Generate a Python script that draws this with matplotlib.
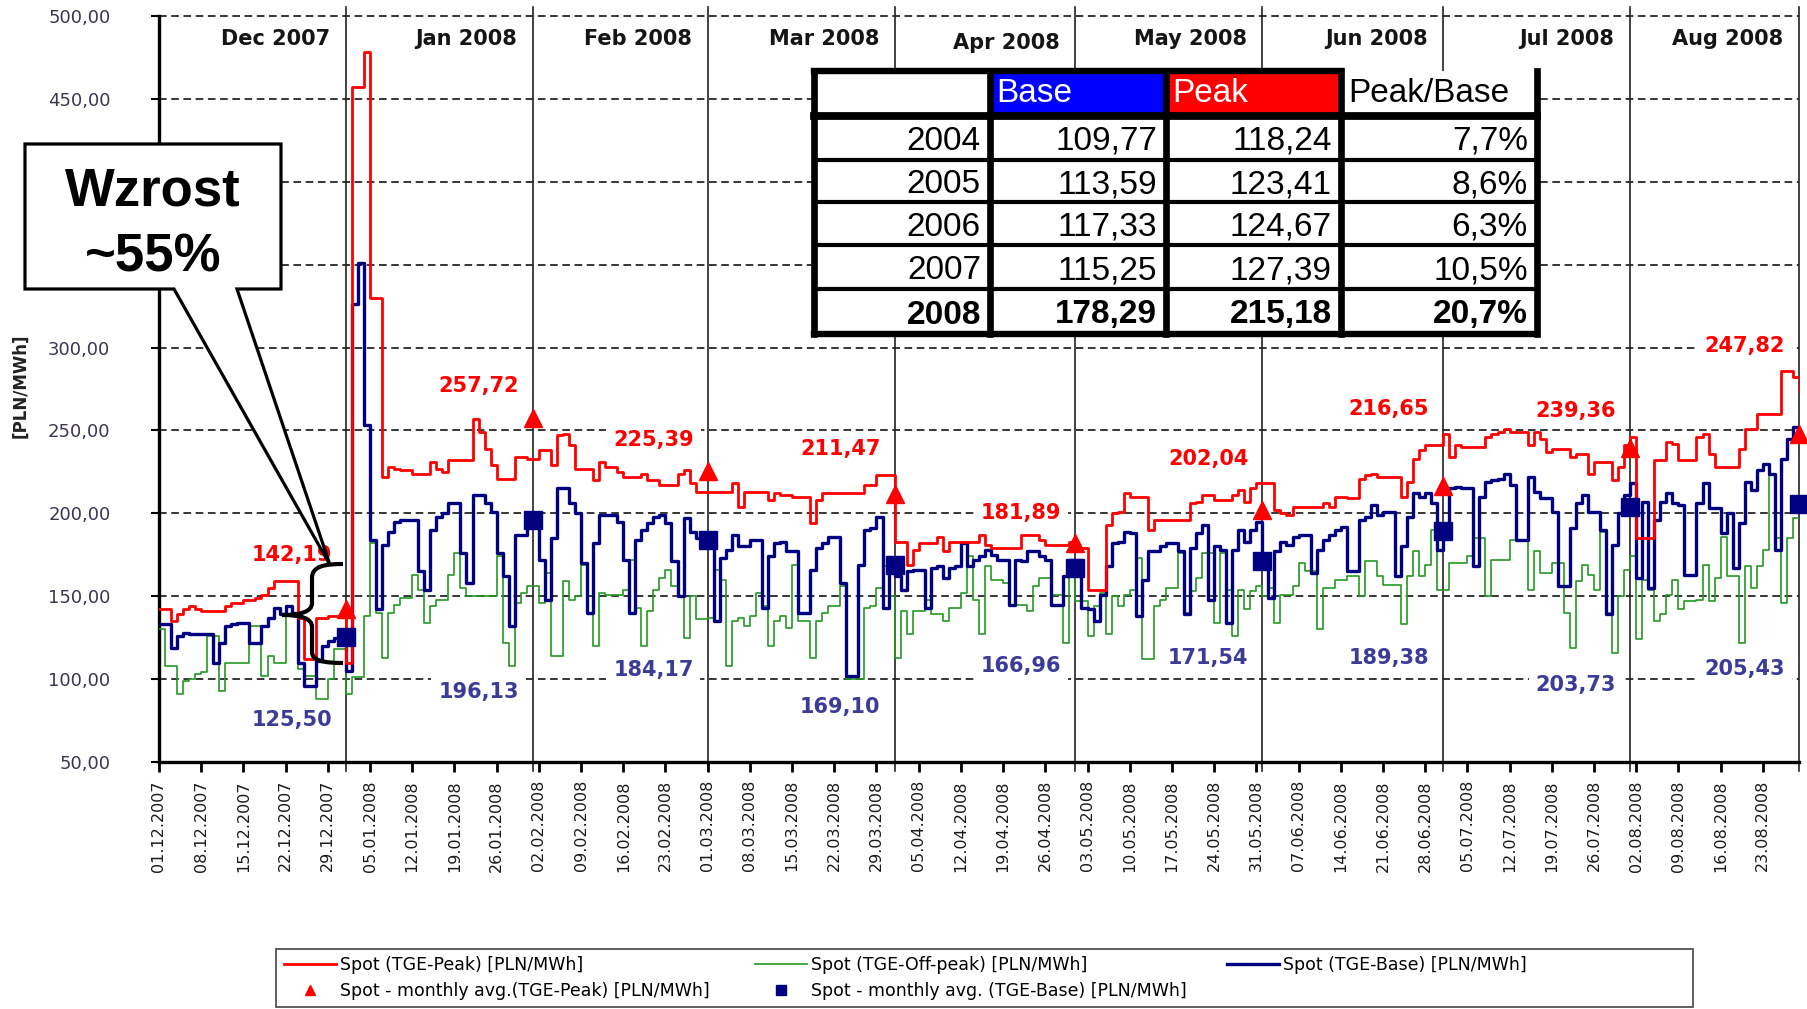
import datetime as dt

import numpy as np
import matplotlib
matplotlib.use("Agg")
import matplotlib.pyplot as plt
import matplotlib.transforms as mtransforms
from matplotlib.lines import Line2D
from matplotlib.patches import Polygon, Rectangle, PathPatch
from matplotlib.path import Path

START = dt.date(2007, 12, 1)

# daily spot prices [PLN/MWh], 01.12.2007 .. 29.08.2008, one list per month
peak_dec = [142, 142, 135, 139, 142, 144, 142, 141, 141, 141, 141, 144, 146, 146, 148, 148,
            149, 151, 155, 159, 159, 159, 159, 137, 112, 112, 137, 137, 138, 138, 138]
peak_jan = [110, 457, 457, 478, 330, 330, 222, 228, 227, 226, 226, 224, 224, 224, 231, 227,
            225, 232, 232, 232, 232, 257, 249, 239, 229, 221, 221, 221, 234, 234, 233]
peak_feb = [233, 238, 238, 229, 247, 248, 241, 227, 227, 227, 220, 231, 228, 228, 225, 222,
            222, 222, 224, 220, 220, 217, 217, 217, 224, 226, 218, 213, 213]
peak_mar = [213, 213, 213, 213, 218, 204, 213, 213, 213, 213, 208, 212, 211, 211, 210, 210,
            210, 194, 208, 212, 212, 212, 212, 212, 212, 212, 217, 217, 223, 223, 223]
peak_apr = [183, 183, 169, 178, 182, 182, 182, 186, 177, 183, 183, 183, 183, 183, 187, 181,
            179, 179, 179, 179, 179, 187, 187, 187, 184, 181, 181, 181, 181, 183]
peak_may = [179, 179, 154, 154, 154, 193, 200, 201, 212, 210, 210, 210, 190, 196, 196, 196,
            196, 196, 196, 206, 207, 211, 211, 208, 208, 208, 211, 214, 207, 215, 218]
peak_jun = [218, 218, 202, 200, 199, 204, 204, 204, 204, 204, 206, 204, 210, 210, 209, 209,
            221, 223, 224, 222, 222, 222, 222, 210, 219, 233, 238, 241, 241, 241]
peak_jul = [248, 234, 241, 240, 240, 240, 240, 246, 248, 249, 251, 249, 249, 249, 241, 249,
            245, 237, 239, 239, 239, 234, 236, 236, 224, 231, 231, 231, 220, 228, 241]
peak_aug = [246, 185, 185, 185, 232, 232, 243, 242, 232, 232, 232, 246, 248, 236, 228, 228,
            228, 228, 239, 251, 251, 260, 260, 260, 260, 286, 286, 282, 273]

base_dec = [133, 133, 119, 126, 128, 127, 127, 127, 127, 110, 122, 132, 133, 134, 134, 122,
            122, 132, 137, 143, 139, 144, 140, 110, 96, 96, 111, 120, 123, 125, 125]
base_jan = [105, 326, 351, 253, 184, 142, 181, 189, 195, 196, 196, 196, 165, 154, 190, 198,
            200, 206, 206, 176, 158, 211, 211, 206, 201, 176, 162, 132, 187, 187, 198]
base_feb = [198, 172, 148, 185, 215, 215, 206, 200, 170, 140, 182, 199, 199, 199, 195, 172,
            140, 184, 190, 194, 198, 199, 194, 171, 150, 197, 189, 185, 185]
base_mar = [185, 135, 173, 178, 187, 180, 180, 184, 184, 143, 174, 182, 183, 177, 177, 140,
            140, 166, 179, 182, 186, 186, 158, 102, 102, 169, 190, 191, 198, 143, 173]
base_apr = [162, 154, 165, 166, 166, 143, 167, 168, 161, 167, 168, 182, 168, 172, 174, 178,
            175, 172, 172, 145, 172, 171, 177, 177, 174, 172, 145, 145, 162, 172]
base_may = [172, 143, 142, 135, 151, 168, 182, 183, 189, 188, 138, 160, 177, 177, 180, 182,
            182, 177, 139, 179, 188, 193, 148, 180, 178, 134, 178, 190, 183, 190, 195]
base_jun = [175, 149, 177, 183, 181, 186, 187, 187, 164, 178, 184, 187, 190, 192, 165, 165,
            196, 198, 205, 199, 201, 201, 162, 180, 198, 212, 210, 212, 206, 178]
base_jul = [190, 215, 216, 215, 215, 168, 210, 219, 220, 221, 224, 217, 184, 184, 222, 213,
            209, 209, 201, 156, 156, 191, 206, 211, 201, 201, 190, 139, 181, 200, 211]
base_aug = [218, 161, 207, 155, 196, 207, 212, 206, 205, 163, 163, 206, 218, 203, 203, 188,
            200, 167, 194, 219, 214, 226, 230, 224, 178, 233, 245, 252, 252]

off_dec = [130, 108, 108, 91, 99, 100, 103, 104, 126, 126, 93, 110, 110, 110, 110, 132,
           132, 102, 114, 110, 110, 138, 138, 106, 102, 102, 88, 88, 100, 118, 118]
off_jan = [91, 101, 101, 138, 182, 140, 113, 140, 145, 149, 149, 163, 154, 134, 144, 148,
           148, 163, 176, 155, 150, 150, 150, 150, 150, 174, 122, 108, 146, 152, 156]
off_feb = [156, 146, 164, 114, 114, 159, 148, 150, 169, 140, 120, 152, 151, 151, 151, 154,
           172, 143, 120, 141, 154, 161, 166, 156, 150, 125, 150, 136, 136]
off_mar = [137, 166, 160, 108, 135, 137, 132, 138, 152, 144, 120, 135, 138, 131, 169, 135,
           135, 113, 135, 140, 144, 144, 156, 100, 100, 100, 143, 144, 155, 168, 150]
off_apr = [113, 141, 127, 141, 141, 148, 139, 139, 135, 143, 143, 152, 174, 148, 127, 168,
           160, 160, 158, 145, 145, 145, 141, 156, 161, 161, 151, 151, 122, 163]
off_may = [147, 147, 126, 144, 152, 127, 150, 144, 151, 154, 173, 112, 112, 144, 148, 155,
           155, 176, 140, 153, 161, 176, 176, 134, 176, 154, 126, 154, 142, 153, 156]
off_jun = [150, 155, 134, 151, 151, 156, 170, 165, 165, 130, 155, 155, 160, 160, 162, 162,
           150, 171, 171, 162, 157, 157, 157, 133, 162, 177, 162, 169, 190, 154]
off_jul = [154, 170, 170, 170, 174, 185, 185, 150, 172, 172, 172, 184, 184, 184, 154, 177,
           164, 164, 170, 170, 140, 119, 159, 169, 163, 154, 189, 140, 116, 150, 166]
off_aug = [174, 124, 160, 154, 135, 139, 151, 160, 142, 147, 147, 148, 169, 147, 161, 186,
           162, 162, 122, 168, 155, 168, 178, 223, 185, 146, 185, 197, 197]

# monthly averages
months = ["Dec 2007", "Jan 2008", "Feb 2008", "Mar 2008", "Apr 2008",
          "May 2008", "Jun 2008", "Jul 2008", "Aug 2008"]
peak_avg = [142.19, 257.72, 225.39, 211.47, 181.89, 202.04, 216.65, 239.36, 247.82]
base_avg = [125.50, 196.13, 184.17, 169.10, 166.96, 171.54, 189.38, 203.73, 205.43]

# yearly table
years = ["2004", "2005", "2006", "2007", "2008"]
base_year = [109.77, 113.59, 117.33, 115.25, 178.29]
peak_year = [118.24, 123.41, 124.67, 127.39, 215.18]

# text heights of the monthly labels (layout only)
peak_label_y = [175, 277, 244, 239, 200.5, 233, 263, 262, 301]
base_label_y = [75.6, 92.5, 105.5, 83, 108, 112.7, 112.5, 96.7, 105.8]

RED = "#ff0000"
NAVY = "#000080"
GREEN = "#229922"
LBLUE = "#3b3b98"


def comma(v, nd=2):
    return f"{v:.{nd}f}".replace(".", ",")


peak = np.array(peak_dec + peak_jan + peak_feb + peak_mar + peak_apr + peak_may
                + peak_jun + peak_jul + peak_aug, dtype=float)
base = np.array(base_dec + base_jan + base_feb + base_mar + base_apr + base_may
                + base_jun + base_jul + base_aug, dtype=float)
offpeak = np.array(off_dec + off_jan + off_feb + off_mar + off_apr + off_may
                   + off_jun + off_jul + off_aug, dtype=float)
days = np.arange(len(peak))
last = days[-1]

# month ends (first day of next month), the last one is the end of data
ends = [(dt.date(2008, m, 1) - START).days for m in range(1, 9)] + [last]

W, H = 1808, 1009
fig = plt.figure(figsize=(W / 100, H / 100), dpi=100)
plt.rcParams["font.family"] = ["DejaVu Sans"]
px = mtransforms.Affine2D().scale(1 / W, -1 / H).translate(0, 1) + fig.transFigure

ax = fig.add_axes([159 / W, 1 - 762 / H, (1799 - 159) / W, (762 - 16) / H])
ax.set_xlim(0, last)
ax.set_ylim(50, 500)

for v in range(100, 501, 50):
    ax.axhline(v, color="black", lw=1.1, ls=(0, (5, 3)), zorder=1, clip_on=False)
for e in ends:
    ax.axvline(e, ymin=-0.012, ymax=1.012, color="#222222", lw=1.2, zorder=1.5, clip_on=False)

ax.step(days, offpeak, where="post", color=GREEN, lw=1.2, zorder=3,
        label="Spot (TGE-Off-peak) [PLN/MWh]")
ax.step(days, base, where="post", color=NAVY, lw=2.4, zorder=4,
        label="Spot (TGE-Base) [PLN/MWh]")
ax.step(days, peak, where="post", color=RED, lw=2.0, zorder=5,
        label="Spot (TGE-Peak) [PLN/MWh]")
ax.plot(ends, peak_avg, ls="none", marker="^", ms=13, color=RED, zorder=6, clip_on=False,
        label="Spot - monthly avg.(TGE-Peak) [PLN/MWh]")
ax.plot(ends, base_avg, ls="none", marker="s", ms=13, color=NAVY, zorder=6, clip_on=False,
        label="Spot - monthly avg. (TGE-Base) [PLN/MWh]")

box = dict(facecolor="white", edgecolor="none", pad=5)
for i, e in enumerate(ends):
    ax.text(e - 9, peak_label_y[i], comma(peak_avg[i]), color=RED, fontsize=15,
            fontweight="bold", ha="center", va="center", bbox=box, zorder=2.5)
    ax.text(e - 9, base_label_y[i], comma(base_avg[i]), color=LBLUE, fontsize=15,
            fontweight="bold", ha="center", va="center", bbox=box, zorder=2.5)
    ax.text(e - 2.6, 484 if i == 4 else 486, months[i], fontsize=15, fontweight="bold",
            color="#151515", ha="right", va="center", zorder=2.5)

# axes styling
for s in ("top", "right"):
    ax.spines[s].set_visible(False)
for s in ("left", "bottom"):
    ax.spines[s].set_linewidth(2.4)
ticks = np.arange(0, last, 7)
ax.set_xticks(ticks)
ax.set_xticklabels([(START + dt.timedelta(days=int(d))).strftime("%d.%m.%Y") for d in ticks],
                   rotation=90, fontsize=11.5, color="#1a1a1a")
yticks = np.arange(50, 501, 50)
ax.set_yticks(yticks)
# 350 and 400 sit behind the callout box, as in the original
ax.set_yticklabels(["" if v in (350, 400) else comma(v) for v in yticks],
                   fontsize=13, color="#3d3550")
ax.tick_params(axis="x", length=7, width=2, pad=6)
ax.tick_params(axis="y", length=6, width=1.5, pad=29)
fig.text(20 / W, 1 - 386 / H, "[PLN/MWh]", rotation=90, ha="center", va="center",
         fontsize=12, fontweight="bold", color="#222222")

# speech bubble with brace
bubble = [(25, 144), (281, 144), (281, 289), (237, 289), (330, 565), (174, 289), (25, 289)]
fig.add_artist(Polygon(bubble, closed=True, transform=px, facecolor="white",
                       edgecolor="black", lw=2.3, joinstyle="miter"))
fig.text(153, 205, "Wzrost", transform=px, ha="center", va="baseline", fontsize=38,
         fontweight="bold", family="Liberation Sans")
fig.text(153, 271, "~55%", transform=px, ha="center", va="baseline", fontsize=38,
         fontweight="bold", family="Liberation Sans")
brace_v = [(343, 564), (325, 564), (312, 566), (312, 578), (312, 603),
           (312, 612), (300, 615), (282, 615), (300, 615), (312, 618), (312, 627),
           (312, 652), (312, 661), (325, 663), (343, 663)]
C, L = Path.CURVE4, Path.LINETO
brace_c = [Path.MOVETO, C, C, C, L, C, C, C, C, C, C, L, C, C, C]
fig.add_artist(PathPatch(Path(brace_v, brace_c), transform=px, fill=False,
                         lw=3, edgecolor="black"))

# yearly table
col_x = [814, 990, 1166, 1341, 1537]
row_y = [71, 116, 160, 202, 245, 289, 334]
fig.add_artist(Rectangle((col_x[0], row_y[0]), col_x[-1] - col_x[0], row_y[-1] - row_y[0],
                         transform=px, facecolor="white", edgecolor="none"))
fig.add_artist(Rectangle((col_x[1], row_y[0]), col_x[2] - col_x[1], row_y[1] - row_y[0],
                         transform=px, facecolor="#0000ff", edgecolor="none"))
fig.add_artist(Rectangle((col_x[2], row_y[0]), col_x[3] - col_x[2], row_y[1] - row_y[0],
                         transform=px, facecolor="#ff0000", edgecolor="none"))


def tline(xs, ys, lw):
    fig.add_artist(Line2D(xs, ys, transform=px, color="black", lw=lw,
                          solid_capstyle="projecting"))


tline([col_x[0], col_x[3]], [row_y[0], row_y[0]], 4.6)
tline([col_x[0], col_x[-1]], [row_y[1], row_y[1]], 5.6)
for y in row_y[2:-1]:
    tline([col_x[0], col_x[-1]], [y, y], 3.0)
tline([col_x[0], col_x[-1]], [row_y[-1], row_y[-1]], 4.6)
for x in col_x:
    tline([x, x], [row_y[0], row_y[-1]], 4.8)

tfont = dict(family="Liberation Sans", fontsize=24)
fig.text(col_x[1] + 6, 102, "Base", transform=px, color="white", **tfont)
fig.text(col_x[2] + 6, 102, "Peak", transform=px, color="white", **tfont)
fig.text(col_x[3] + 7, 102, "Peak/Base", transform=px, color="black", **tfont)
for i, yr in enumerate(years):
    yb = (row_y[i + 1] + row_y[i + 2]) / 2 + 12
    w = "bold" if i == len(years) - 1 else "normal"
    cells = [yr, comma(base_year[i]), comma(peak_year[i]),
             comma((peak_year[i] / base_year[i] - 1) * 100, 1) + "%"]
    for j, s in enumerate(cells):
        fig.text(col_x[j + 1] - 9, yb, s, transform=px, ha="right", va="baseline",
                 fontweight=w, **tfont)

# legend
handles = {h.get_label(): h for h in ax.get_lines() if not h.get_label().startswith("_")}
leg_kw = dict(loc="upper left", frameon=False, fontsize=12.5, borderpad=0, borderaxespad=0,
              handlelength=3.0, handletextpad=0.25, labelspacing=0.45, markerscale=0.55)
fig.legend(handles=[handles["Spot (TGE-Peak) [PLN/MWh]"],
                    handles["Spot - monthly avg.(TGE-Peak) [PLN/MWh]"]],
           bbox_to_anchor=(284 / W, 1 - 956 / H), **leg_kw)
fig.legend(handles=[handles["Spot (TGE-Off-peak) [PLN/MWh]"],
                    handles["Spot - monthly avg. (TGE-Base) [PLN/MWh]"]],
           bbox_to_anchor=(755 / W, 1 - 956 / H), **leg_kw)
fig.legend(handles=[handles["Spot (TGE-Base) [PLN/MWh]"]],
           bbox_to_anchor=(1227 / W, 1 - 956 / H), **leg_kw)
fig.add_artist(Rectangle((276, 949), 1417, 58, transform=px, fill=False,
                         edgecolor="#444444", lw=1.2))

fig.savefig("out.png", dpi=100)
